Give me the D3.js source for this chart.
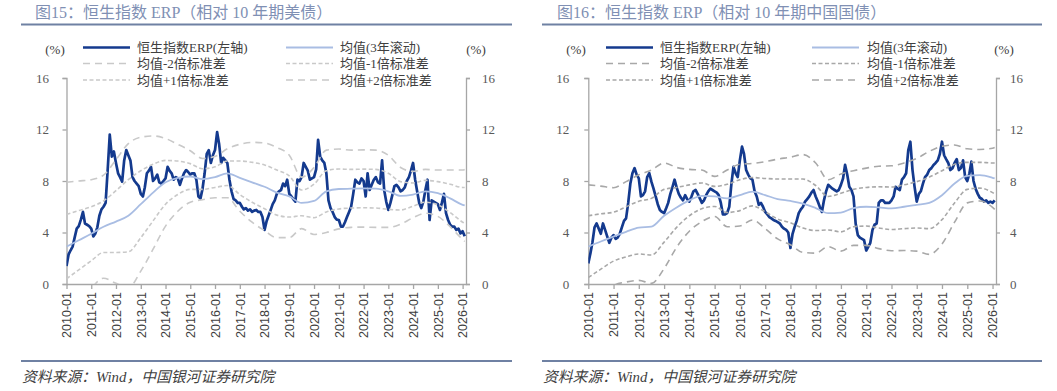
<!DOCTYPE html>
<html>
<head>
<meta charset="utf-8">
<script src="https://cdn.jsdelivr.net/npm/d3@7"></script>
<style>
  body { margin: 0; background: #fff; }
</style>
</head>
<body>
<svg id="chart" width="1057" height="391"></svg>
<script>
let serif = '"Liberation Serif", "Noto Sans CJK SC", serif';
let sans = '"Liberation Sans", Arial, sans-serif';
let titleColor = "#8090b4", ruleColor = "#6f81a3", axisColor = "#a6a6a6";
let erpColor = "#143a8e", meanColor = "#a9bde3";

// x-axis tick labels
let yearTicks = ["2010-01", "2011-01", "2012-01", "2013-01", "2014-01", "2015-01", "2016-01", "2017-01",
  "2018-01", "2019-01", "2020-01", "2021-01", "2022-01", "2023-01", "2024-01", "2025-01", "2026-01"];

// ERP vs 10y US treasury, monthly 2010-01 .. 2026-02 (%)
let usErp = [
  1.4, 2.3, 2.6, 2.9, 3.6, 4.3, 4.5, 5.0, 5.6, 4.7, 4.6, 4.5,
  4.3, 3.7, 3.9, 4.4, 5.3, 5.8, 6.0, 6.3, 8.9, 11.6, 9.9, 10.3,
  9.4, 8.6, 8.3, 7.95, 9.6, 10.4, 10.0, 9.6, 8.3, 8.0, 7.8, 7.6,
  7.0, 6.8, 7.5, 8.6, 8.8, 9.1, 8.0, 8.2, 8.5, 7.9, 7.8, 8.0,
  8.2, 9.1, 8.8, 8.6, 8.1, 8.3, 8.2, 7.7, 8.2, 8.6, 8.85, 8.7,
  8.5, 8.6, 8.6, 8.1, 6.8, 6.65, 7.4, 8.6, 10.1, 10.4, 9.4, 10.0,
  10.4, 11.8, 10.9, 9.4, 9.8, 9.6, 9.4, 8.1, 7.2, 6.6, 6.5, 6.3,
  6.3, 6.0, 5.8, 5.9, 5.7, 5.8, 5.6, 5.7, 5.75, 5.6, 5.6, 5.2,
  4.2, 4.9, 5.3, 5.75, 6.2, 6.5, 7.0, 7.2, 7.3, 7.8, 7.6, 8.1,
  7.0, 6.8, 6.6, 6.4, 8.1, 8.0, 8.3, 9.4, 9.1, 8.8, 8.1, 8.2,
  8.3, 8.9, 11.2, 9.9, 9.6, 9.4, 8.6, 6.5, 5.9, 5.6, 5.2, 5.0,
  4.97, 4.45, 4.45, 4.8, 5.2, 5.6, 6.0, 7.0, 8.1, 7.9, 7.8, 8.2,
  8.0, 6.8, 8.6, 7.3, 7.7, 8.1, 8.3, 7.9, 7.8, 9.6, 7.3, 6.4,
  5.75, 6.3, 6.9, 7.6, 7.7, 7.5, 7.2, 7.3, 7.5, 8.0, 8.3, 8.8,
  9.4, 8.1, 7.2, 6.3, 5.9, 6.4, 7.3, 8.1, 4.97, 6.5, 6.4, 6.3,
  6.2, 5.75, 6.3, 7.0, 5.5, 4.97, 4.6, 4.45, 4.45, 4.2, 4.3, 3.93,
  4.1, 3.7
];

// ERP vs 10y China government bond, monthly 2010-01 .. 2026-02 (%)
let cnErp = [
  1.6, 2.4, 3.2, 4.4, 4.7, 4.3, 3.9, 4.7, 4.2, 3.7, 3.2, 3.6,
  3.8, 3.5, 3.6, 3.9, 4.4, 4.9, 5.1, 6.3, 7.8, 8.6, 9.0, 8.5,
  8.2, 6.8, 6.9, 7.2, 8.3, 8.6, 7.95, 7.4, 6.8, 6.2, 5.75, 5.6,
  5.5, 5.9, 6.3, 7.0, 7.5, 8.1, 7.5, 7.0, 6.7, 6.5, 6.9, 6.6,
  6.4, 6.8, 7.2, 7.3, 7.0, 6.65, 6.3, 6.5, 6.9, 7.2, 7.4, 7.3,
  7.2, 7.1, 6.9, 6.3, 5.4, 5.4, 5.5, 6.0, 7.8, 9.1, 8.6, 8.3,
  9.6, 10.67, 10.1, 8.85, 8.5, 8.2, 8.1, 7.2, 6.8, 6.15, 6.3, 6.0,
  5.6, 5.4, 5.2, 5.1, 4.97, 4.9, 4.8, 4.7, 4.45, 4.3, 4.2, 4.0,
  2.8, 3.9, 4.4, 4.9, 5.5, 5.8, 6.0, 6.4, 6.6, 6.8, 7.1, 7.3,
  6.8, 6.4, 6.0, 5.6, 6.5, 7.2, 7.7, 7.55, 7.4, 7.3, 7.2, 7.3,
  7.7, 8.2, 9.25, 8.5, 7.55, 7.3, 6.8, 4.7, 3.8, 3.6, 3.5, 3.4,
  2.6, 2.9, 3.2, 4.2, 4.6, 4.7, 6.3, 6.5, 6.5, 6.3, 6.3, 6.3,
  6.5, 6.8, 7.55, 7.4, 7.3, 8.1, 8.3, 8.6, 10.4, 11.05, 8.85, 7.55,
  6.4, 7.0, 7.2, 7.8, 8.3, 8.5, 8.85, 9.0, 9.25, 9.4, 9.6, 10.1,
  11.05, 10.0, 9.7, 9.4, 8.85, 9.0, 9.4, 9.7, 8.85, 9.0, 9.6, 8.3,
  8.0, 8.6, 9.5, 8.0, 7.4, 7.0, 6.7, 6.6, 6.4, 6.5, 6.3, 6.4,
  6.3, 6.5
];

// 3-year rolling mean and std, read half-yearly
let bandDates = ["2010-01", "2010-07", "2011-01", "2011-07", "2012-01", "2012-07", "2013-01", "2013-07",
  "2014-01", "2014-07", "2015-01", "2015-07", "2016-01", "2016-07", "2017-01", "2017-07",
  "2018-01", "2018-07", "2019-01", "2019-07", "2020-01", "2020-07", "2021-01", "2021-07",
  "2022-01", "2022-07", "2023-01", "2023-07", "2024-01", "2024-07", "2025-01", "2025-07",
  "2026-01", "2026-02"];
let usMean = [2.9, 3.4, 3.9, 4.45, 4.85, 5.3, 6.2, 7.1, 7.9, 8.25, 8.35, 8.15, 8.3, 8.6, 8.25, 7.9,
  7.55, 7.1, 6.8, 6.3, 6.45, 7.2, 7.38, 7.4, 7.42, 7.4, 7.2, 6.85, 6.95, 7.2, 7.05, 6.65, 6.15, 6.1];
let usSd = [2.5, 2.3, 2.1, 2.0, 2.4, 2.8, 2.6, 2.2, 1.7, 1.3, 1.0, 0.8, 0.8, 0.95, 1.3, 1.55,
  1.7, 1.75, 1.6, 1.0, 1.3, 1.6, 1.55, 1.5, 1.5, 1.5, 1.4, 1.1, 0.9, 0.85, 0.9, 1.1, 1.35, 1.4];
let cnMean = [2.9, 3.3, 3.68, 4.05, 4.38, 4.45, 5.3, 5.95, 6.5, 6.85, 6.8, 6.65, 6.9, 7.17, 6.9, 6.6,
  6.45, 6.25, 5.9, 5.5, 5.55, 5.9, 6.0, 5.95, 5.88, 6.0, 6.15, 6.3, 6.9, 7.8, 8.4, 8.45, 8.25, 8.2];
let cnSd = [2.4, 2.15, 1.9, 1.95, 2.05, 2.2, 2.05, 1.55, 1.2, 1.0, 0.78, 1.1, 1.2, 1.1, 1.3, 1.55,
  1.7, 1.9, 1.75, 1.3, 1.5, 1.45, 1.5, 1.6, 1.65, 1.7, 1.8, 2.0, 1.9, 1.5, 1.05, 1.0, 1.15, 1.2];

let parse = d3.timeParse("%Y-%m");
let months = d3.timeMonth.range(parse("2010-01"), parse("2026-03"));
let xEnd = new Date(2026, 1, 20);

let bands = [
  { k: -2, name: "均值-2倍标准差", dash: "7,5" },
  { k: -1, name: "均值-1倍标准差", dash: "4,2.5" },
  { k: 1, name: "均值+1倍标准差", dash: "4,2.5" },
  { k: 2, name: "均值+2倍标准差", dash: "7,5" }
];

let panels = [
  {
    id: 0, title: "图15：恒生指数 ERP（相对 10 年期美债）",
    erp: usErp, mean: usMean, sd: usSd, bandColor: "#c9c9c9",
    x0: 66.5, x1: 466, titleX: 35, rule: [21, 512], srcX: 22,
    leg: { l1: 83, t1: 137, l2: 286, t2: 340 }, pctL: 55, pctR: 476
  },
  {
    id: 1, title: "图16：恒生指数 ERP（相对 10 年期中国国债）",
    erp: cnErp, mean: cnMean, sd: cnSd, bandColor: "#a8a8a8",
    x0: 588.3, x1: 996, titleX: 557, rule: [542, 1042], srcX: 543,
    leg: { l1: 606, t1: 660, l2: 812, t2: 867 }, pctL: 576, pctR: 1004
  }
];

let svg = d3.select("#chart");
svg.append("rect").attr("width", 1057).attr("height", 391).attr("fill", "#fff");

let yTop = 78, yBot = 284;
let y = d3.scaleLinear().domain([0, 16]).range([yBot, yTop]);

function render_panel(p) {
  let g = svg.append("g").attr("class", "panel");
  let x = d3.scaleTime().domain([parse("2010-01"), xEnd]).range([p.x0, p.x1]);

  // title + rules
  g.append("text")
    .attr("x", p.titleX).attr("y", 18)
    .attr("font-family", serif).attr("font-size", 16)
    .attr("fill", titleColor)
    .text(p.title);
  g.append("line")
    .attr("x1", p.rule[0]).attr("x2", p.rule[1])
    .attr("y1", 24.5).attr("y2", 24.5)
    .attr("stroke", ruleColor).attr("stroke-width", 2);
  g.append("line")
    .attr("x1", p.rule[0]).attr("x2", p.rule[1])
    .attr("y1", 361).attr("y2", 361)
    .attr("stroke", ruleColor).attr("stroke-width", 2);
  g.append("text")
    .attr("x", p.srcX).attr("y", 382)
    .attr("font-family", serif).attr("font-size", 14.8)
    .attr("font-style", "italic")
    .attr("fill", "#404040")
    .text("资料来源：Wind，中国银河证券研究院");

  // unit labels
  [p.pctL, p.pctR].forEach(px => {
    g.append("text")
      .attr("x", px).attr("y", 54)
      .attr("text-anchor", "middle")
      .attr("font-family", serif).attr("font-size", 13)
      .attr("fill", "#404040")
      .text("(%)");
  });

  // axes
  let yl = g.append("g")
    .attr("transform", `translate(${p.x0},0)`)
    .call(d3.axisLeft(y).tickValues([0, 4, 8, 12, 16]).tickSize(4).tickPadding(p.id ? 15 : 13.5));
  let yr = g.append("g")
    .attr("transform", `translate(${p.x1},0)`)
    .call(d3.axisRight(y).tickValues([0, 4, 8, 12, 16]).tickSize(4).tickPadding(p.id ? 10 : 12));
  [yl, yr].forEach(a => {
    a.selectAll("text").attr("font-family", serif).attr("font-size", 13).attr("fill", "#595959");
  });

  let xa = g.append("g")
    .attr("transform", `translate(0,${yBot})`)
    .call(d3.axisBottom(x).tickValues(yearTicks.map(parse)).tickSize(5).tickSizeOuter(0)
      .tickFormat(d3.timeFormat("%Y-%m")));
  xa.selectAll("text")
    .attr("transform", "rotate(-90)")
    .attr("x", -8).attr("y", 0).attr("dy", "0.35em")
    .style("text-anchor", "end")
    .attr("font-family", sans).attr("font-size", 12.5).attr("fill", "#404040");

  [yl, yr, xa].forEach(a => {
    a.selectAll("path, line").attr("stroke", axisColor).attr("stroke-width", 1.3);
  });

  // clip
  g.append("clipPath").attr("id", `clip-${p.id}`)
    .append("rect")
    .attr("x", p.x0).attr("y", yTop)
    .attr("width", p.x1 - p.x0).attr("height", yBot - yTop);
  let plot = g.append("g").attr("clip-path", `url(#clip-${p.id})`);

  let erpData = months.map((d, i) => ({ date: d, v: p.erp[i] }));
  let smooth = d3.line().x(d => x(d.date)).y(d => y(d.v)).curve(d3.curveMonotoneX);
  let raw = d3.line().x(d => x(d.date)).y(d => y(d.v));

  plot.append("path")
    .datum(erpData)
    .attr("fill", "none")
    .attr("stroke", erpColor)
    .attr("stroke-width", 2.7)
    .attr("stroke-linejoin", "round")
    .attr("d", raw);

  bands.forEach(b => {
    let bd = bandDates.map((d, i) => ({ date: parse(d), v: p.mean[i] + b.k * p.sd[i] }));
    plot.append("path")
      .datum(bd)
      .attr("fill", "none")
      .attr("stroke", p.bandColor)
      .attr("stroke-width", 1.6)
      .attr("stroke-dasharray", b.dash)
      .attr("d", smooth);
  });

  plot.append("path")
    .datum(bandDates.map((d, i) => ({ date: parse(d), v: p.mean[i] })))
    .attr("fill", "none")
    .attr("stroke", meanColor)
    .attr("stroke-width", 1.8)
    .attr("d", smooth);

  // legend
  let rows = [47.5, 63.5, 80];
  let items = [
    { x: p.leg.l1, t: p.leg.t1, row: 0, name: "恒生指数ERP(左轴)", color: erpColor, w: 2.3, dash: null },
    { x: p.leg.l2, t: p.leg.t2, row: 0, name: "均值(3年滚动)", color: meanColor, w: 1.8, dash: null },
    { x: p.leg.l1, t: p.leg.t1, row: 1, name: bands[0].name, color: p.bandColor, w: 1.6, dash: bands[0].dash },
    { x: p.leg.l2, t: p.leg.t2, row: 1, name: bands[1].name, color: p.bandColor, w: 1.6, dash: bands[1].dash },
    { x: p.leg.l1, t: p.leg.t1, row: 2, name: bands[2].name, color: p.bandColor, w: 1.6, dash: bands[2].dash },
    { x: p.leg.l2, t: p.leg.t2, row: 2, name: bands[3].name, color: p.bandColor, w: 1.6, dash: bands[3].dash }
  ];
  let lg = g.selectAll(".legend_item")
    .data(items)
    .enter()
    .append("g")
    .attr("class", "legend_item");
  lg.append("line")
    .attr("x1", d => d.x).attr("x2", d => d.x + 47)
    .attr("y1", d => rows[d.row]).attr("y2", d => rows[d.row])
    .attr("stroke", d => d.color)
    .attr("stroke-width", d => d.w)
    .attr("stroke-dasharray", d => d.dash);
  lg.append("text")
    .attr("x", d => d.t).attr("y", d => rows[d.row] + 4.5)
    .attr("font-family", serif).attr("font-size", 13)
    .attr("fill", "#404040")
    .text(d => d.name);
}

panels.forEach(render_panel);
</script>
</body>
</html>
